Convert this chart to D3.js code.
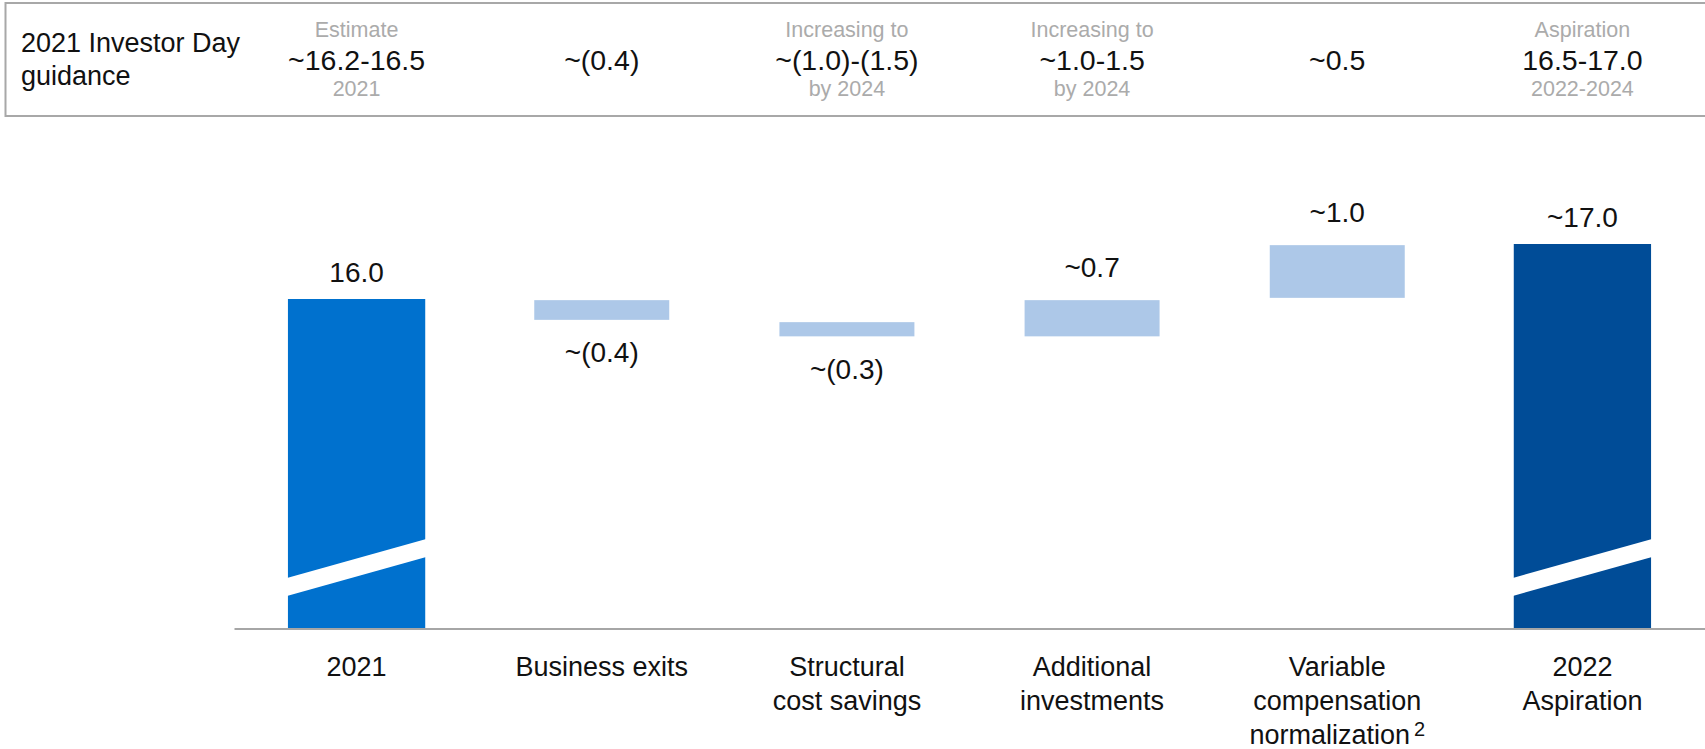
<!DOCTYPE html>
<html>
<head>
<meta charset="utf-8">
<script src="https://cdn.jsdelivr.net/npm/d3@7"></script>
<style>
  body { margin: 0; background: #fff; }
  svg text { font-family: "Liberation Sans", Arial, Helvetica, sans-serif; fill: #111; }
</style>
</head>
<body>
<svg id="chart" width="1705" height="749"></svg>
<script>
// waterfall steps, 2021 -> 2022 aspiration
const categories = ["2021", "Business exits", "Structural\ncost savings", "Additional\ninvestments",
  "Variable\ncompensation\nnormalization", "2022\nAspiration"]
const footnotes = ["", "", "", "", "2", ""]
const stepTypes = ["total", "delta", "delta", "delta", "delta", "total"]
const values = [16.0, -0.4, -0.3, 0.7, 1.0, 17.0]
const valueLabels = ["16.0", "~(0.4)", "~(0.3)", "~0.7", "~1.0", "~17.0"]

// guidance row above the chart
const guidanceTitle = ["2021 Investor Day", "guidance"]
const guidanceTop = ["Estimate", "", "Increasing to", "Increasing to", "", "Aspiration"]
const guidanceMain = ["~16.2-16.5", "~(0.4)", "~(1.0)-(1.5)", "~1.0-1.5", "~0.5", "16.5-17.0"]
const guidanceBottom = ["2021", "", "by 2024", "by 2024", "", "2022-2024"]

// axis is broken, bars start at 10
const yDomain = [10, 17]

const svg = d3.select("#chart")

const x = d3.scaleBand()
    .domain(categories)
    .range([234, 1705])
    .paddingInner(0.44)
    .paddingOuter(0.22)

const y = d3.scaleLinear()
    .domain(yDomain)
    .range([629, 244])

const colors = {start: "#0071ce", end: "#004c97", delta: "#adc8e8"}

// running totals
let running = 0
const steps = categories.map((c, i) => {
  let lo, hi
  if (stepTypes[i] == "total") {
    lo = yDomain[0]; hi = values[i]; running = values[i]
  } else {
    lo = Math.min(running, running + values[i])
    hi = Math.max(running, running + values[i])
    running += values[i]
  }
  return {cat: c, i: i, lo: lo, hi: hi, v: values[i], type: stepTypes[i]}
})

// header box
const head = svg.append("g")
head.append("rect")
    .attr("x", 5.5).attr("y", 3)
    .attr("width", 1760).attr("height", 113)
    .attr("fill", "none")
    .attr("stroke", "#a8a8a8")
    .attr("stroke-width", 2)

head.selectAll("text.title")
  .data(guidanceTitle)
  .join("text")
    .attr("class", "title")
    .attr("x", 21)
    .attr("y", (d, i) => 52 + i * 33)
    .style("font-size", "27px")
    .text(d => d)

const cx = c => x(c) + x.bandwidth() / 2

head.selectAll("text.gtop")
  .data(categories)
  .join("text")
    .attr("class", "gtop")
    .attr("x", cx).attr("y", 37)
    .attr("text-anchor", "middle")
    .style("font-size", "21.5px")
    .style("fill", "#ababab")
    .text((d, i) => guidanceTop[i])

head.selectAll("text.gmain")
  .data(categories)
  .join("text")
    .attr("class", "gmain")
    .attr("x", cx).attr("y", 70)
    .attr("text-anchor", "middle")
    .style("font-size", "28.5px")
    .text((d, i) => guidanceMain[i])

head.selectAll("text.gbot")
  .data(categories)
  .join("text")
    .attr("class", "gbot")
    .attr("x", cx).attr("y", 96)
    .attr("text-anchor", "middle")
    .style("font-size", "21.5px")
    .style("fill", "#ababab")
    .text((d, i) => guidanceBottom[i])

// bars
const bars = svg.append("g")
bars.selectAll("rect")
  .data(steps)
  .join("rect")
    .attr("x", d => x(d.cat))
    .attr("width", x.bandwidth())
    .attr("y", d => y(d.hi))
    .attr("height", d => y(d.lo) - y(d.hi))
    .attr("fill", d => d.type == "delta" ? colors.delta : (d.i == 0 ? colors.start : colors.end))
    .attr("stroke", d => d.type == "delta" ? "#fff" : "none")
    .attr("stroke-width", 2.3)

// white slanted cut on the total bars
const base = y(yDomain[0])
bars.selectAll("polygon")
  .data(steps.filter(d => d.type == "total"))
  .join("polygon")
    .attr("fill", "#fff")
    .attr("points", d => {
      const x0 = x(d.cat) - 1, x1 = x(d.cat) + x.bandwidth() + 1
      return [[x0, base - 33], [x0, base - 51], [x1, base - 90], [x1, base - 72]].join(" ")
    })

// value labels
svg.append("g").selectAll("text")
  .data(steps)
  .join("text")
    .attr("x", d => cx(d.cat))
    .attr("y", d => {
      if (d.type == "total") return y(d.hi) - 17
      if (d.v > 0) return y(d.hi) - 22
      return y(d.lo) + 41
    })
    .attr("text-anchor", "middle")
    .style("font-size", "28px")
    .text((d, i) => valueLabels[i])

// category axis
const axis = svg.append("g")
    .attr("transform", `translate(0,${base - 0.5})`)
    .call(d3.axisBottom(x).tickSize(0).tickSizeOuter(0).tickFormat(""))

axis.select(".domain")
    .attr("stroke", "#a6a6a6")
    .attr("stroke-width", 2)

axis.selectAll(".tick text").remove()
axis.selectAll(".tick").append("text")
    .attr("text-anchor", "middle")
    .style("font-size", "27px")
    .each(function(d, i) {
      const t = d3.select(this)
      const lines = d.split("\n")
      lines.forEach((l, j) => {
        t.append("tspan").attr("x", 0).attr("y", 47 + j * 34).text(l)
      })
      if (footnotes[i]) {
        t.append("tspan")
          .attr("dx", 4).attr("dy", -8)
          .style("font-size", "20px")
          .text(footnotes[i])
      }
    })
</script>
</body>
</html>
